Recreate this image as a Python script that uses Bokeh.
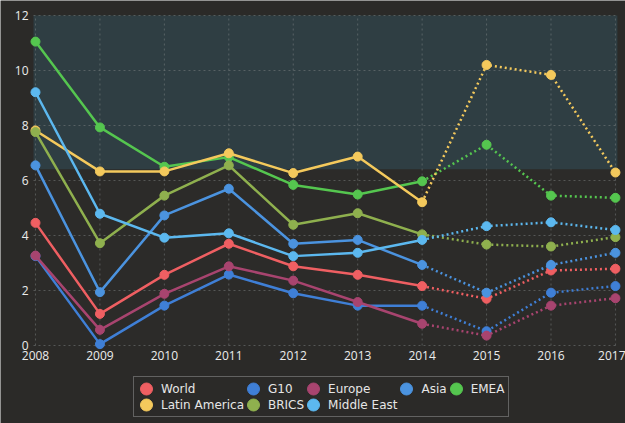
from bokeh.plotting import figure
from bokeh.models import (Range1d, FixedTicker, Legend, LegendItem, BoxAnnotation,
                          ColumnDataSource)
from bokeh.embed import file_html
from bokeh.resources import INLINE

years = [2008, 2009, 2010, 2011, 2012, 2013, 2014, 2015, 2016, 2017]
last_actual = 2014

series_names = ["World", "G10", "Europe", "Asia", "EMEA",
                "Latin America", "BRICS", "Middle East"]
world = [4.46, 1.15, 2.57, 3.70, 2.88, 2.57, 2.16, 1.70, 2.73, 2.79]
g10 = [3.25, 0.05, 1.45, 2.58, 1.90, 1.45, 1.45, 0.52, 1.92, 2.16]
europe = [3.27, 0.57, 1.88, 2.88, 2.36, 1.58, 0.79, 0.36, 1.45, 1.72]
asia = [6.55, 1.94, 4.73, 5.70, 3.70, 3.84, 2.93, 1.92, 2.93, 3.37]
emea = [11.05, 7.93, 6.50, 6.85, 5.84, 5.49, 5.97, 7.30, 5.45, 5.37]
latin_america = [7.82, 6.33, 6.33, 6.99, 6.27, 6.87, 5.21, 10.20, 9.84, 6.29]
brics = [7.76, 3.72, 5.45, 6.55, 4.39, 4.81, 4.04, 3.67, 3.60, 3.94]
middle_east = [9.21, 4.79, 3.92, 4.08, 3.25, 3.37, 3.84, 4.34, 4.48, 4.20]

series_values = [world, g10, europe, asia, emea, latin_america, brics, middle_east]
colors = ["#ef5f62", "#3f7fd6", "#a8446f", "#4b93df", "#55c64f",
          "#f4c95c", "#8fb04e", "#5cb8ef"]

y_ticks = [0, 2, 4, 6, 8, 10, 12]

# plot-area styling constants (in data units)
area_left = 2007.969
area_right = 2017.03
yaxis_pos = 2007.659

p = figure(frame_width=625, frame_height=423, output_backend="svg",
           toolbar_location=None,
           x_range=Range1d(2007.457, 2017.156), y_range=Range1d(-2.836, 12.545),
           min_border_left=0, min_border_right=0, min_border_top=0,
           min_border_bottom=0)

p.background_fill_color = "#2b2a28"
p.border_fill_color = "#2a2927"
p.outline_line_color = None

band_top = BoxAnnotation(left=area_left, right=area_right, bottom=6.4, top=12,
                         fill_color="#2f3e43", fill_alpha=1.0,
                         line_color=None, level="underlay")
band_low = BoxAnnotation(left=area_left, right=area_right, bottom=0, top=6.4,
                         fill_color="#2c2b29", fill_alpha=1.0,
                         line_color=None, level="underlay")
p.add_layout(band_top)
p.add_layout(band_low)

grid_style = dict(line_color="#8a8f8f", line_alpha=0.45, line_dash="2 3",
                  line_width=1)
p.xgrid.visible = False
p.ygrid.visible = False
# grid lines limited to the value area
p.segment(x0=years, y0=[y_ticks[0]] * len(years), x1=years,
          y1=[y_ticks[-1]] * len(years), **grid_style)
p.segment(x0=[area_left] * len(y_ticks), y0=y_ticks,
          x1=[years[-1]] * len(y_ticks), y1=y_ticks, **grid_style)

p.xaxis.ticker = FixedTicker(ticks=years)
p.yaxis.ticker = FixedTicker(ticks=y_ticks)
p.xaxis.fixed_location = 0
p.yaxis.fixed_location = yaxis_pos
for ax in (p.xaxis, p.yaxis):
    ax.axis_line_color = None
    ax.major_tick_line_color = None
    ax.minor_tick_line_color = None
    ax.major_tick_out = 0
    ax.major_tick_in = 0
    ax.major_label_text_color = "#ececec"
    ax.major_label_text_font = "Open Sans"
    ax.major_label_text_font_size = "12px"
p.xaxis.major_label_standoff = 5
p.yaxis.major_label_standoff = -15

split = years.index(last_actual)
items = []
for name, vals, col in zip(series_names, series_values, colors):
    p.line(years[:split + 1], vals[:split + 1], line_color=col, line_width=2.5)
    p.line(years[split:], vals[split:], line_color=col, line_width=2.5,
           line_dash="2 3")
    p.scatter(years, vals, size=9, fill_color=col, line_color=col)
    # legend swatch renderer (kept outside the visible range)
    src = ColumnDataSource(data=dict(x=[1990], y=[0]))
    leg = p.ellipse(x="x", y="y", width=12, height=12, width_units="screen",
                    height_units="screen", fill_color=col, line_color=col,
                    source=src)
    items.append(LegendItem(label=name, renderers=[leg]))

legend = Legend(items=items, orientation="horizontal", ncols=5,
                location=(133, 6), glyph_width=16, glyph_height=15,
                label_height=14, label_standoff=7, spacing=1, padding=4,
                margin=0,
                label_text_font="DejaVu Sans", label_text_font_size="12px",
                label_text_color="#e6e6e6",
                background_fill_color="#2b2a28", background_fill_alpha=1.0,
                border_line_color="#9a9a9a", border_line_width=1)
p.add_layout(legend)

open("out.html", "w").write(file_html(p, INLINE))
